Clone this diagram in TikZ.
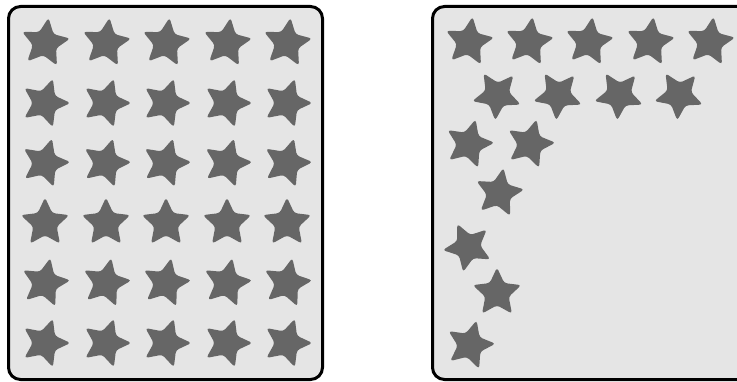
\documentclass[tikz,border=0pt]{standalone}
\begin{document}
\begin{tikzpicture}[x=1pt,y=1pt]
\definecolor{boxgray}{HTML}{E5E5E5}
\definecolor{stargray}{HTML}{666666}
\tikzset{
  boxframe/.style={draw=black,line width=3pt,rounded corners=12pt,fill=boxgray},
  starshape/.style={fill=stargray,rounded corners=3pt}
}
\newcommand{\mystar}[3]{%
  \fill[starshape,shift={(#1,381-#2)},rotate=#3]
    (90:25.5) -- (126:12.3) -- (162:25.5) -- (198:12.3) -- (234:25.5) -- (270:12.3)
    -- (306:25.5) -- (342:12.3) -- (18:25.5) -- (54:12.3) -- cycle;}
\useasboundingbox (0,0) rectangle (737,381);
\clip (0,0) rectangle (737,381);
% boxes
\draw[boxframe] (8.5,381-6.5) rectangle (322.5,381-379.5);
\draw[boxframe] (432.5,381-6.5) rectangle (760,381-379.5);
% left grid
\foreach \y/\r in {43/-8,103/-18,163/-16,223/0,283/-12,343/-18}{
  \foreach \x in {45,106,166,227,287}{
    \mystar{\x}{\y}{\r}
  }
}
% right box
\foreach \x in {469,529,589,650,710}{\mystar{\x}{42}{-8}}
\foreach \x in {497,558,619,679}{\mystar{\x}{95}{32}}
\mystar{469}{144}{-15}
\mystar{530}{144}{-15}
\mystar{499}{193}{-10}
\mystar{468}{247}{25}
\mystar{497}{293}{0}
\mystar{470}{345}{-15}
\end{tikzpicture}
\end{document}
